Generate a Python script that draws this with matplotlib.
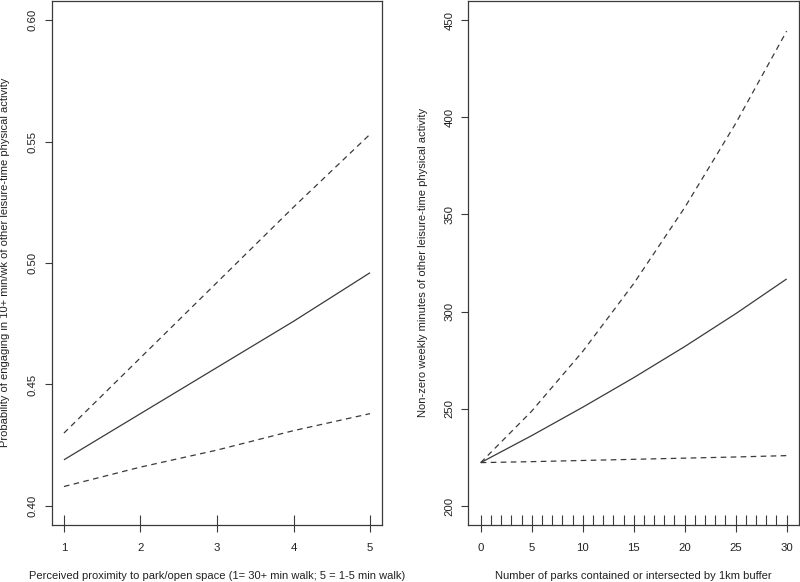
import matplotlib
matplotlib.use("Agg")
import matplotlib.pyplot as plt

plt.rcParams['font.family'] = ['Liberation Sans', 'DejaVu Sans']

# ---- Data: left panel (perceived proximity) ----
prox_x = [1, 2, 3, 4, 5]
prox_fit = [0.419, 0.438, 0.457, 0.476, 0.496]
prox_upper = [0.430, 0.461, 0.492, 0.523, 0.553]
prox_lower = [0.408, 0.416, 0.423, 0.431, 0.438]
prox_rug = [1, 2, 3, 4, 5]
prox_yticks = [0.40, 0.45, 0.50, 0.55, 0.60]
prox_xticks = [1, 2, 3, 4, 5]

# ---- Data: right panel (number of parks) ----
parks_x = [0, 5, 10, 15, 20, 25, 30]
parks_fit = [222.3, 236.2, 250.8, 266.0, 282.0, 298.9, 316.8]
parks_upper = [222.3, 248.8, 279.5, 314.4, 353.5, 396.8, 444.3]
parks_lower = [222.3, 222.8, 223.4, 224.0, 224.6, 225.2, 225.9]
parks_rug = [0, 1, 2, 3, 4, 5, 6, 7, 8, 9, 10, 11, 12, 13, 14, 15,
             16, 17, 18, 19, 20, 21, 22, 23, 24, 25, 26, 27, 28, 29, 30]
parks_yticks = [200, 250, 300, 350, 400, 450]
parks_xticks = [0, 5, 10, 15, 20, 25, 30]

xlabel_left = "Perceived proximity to park/open space (1= 30+ min walk; 5 = 1-5 min walk)"
ylabel_left = "Probability of engaging in 10+ min/wk of other leisure-time physical activity"
xlabel_right = "Number of parks contained or intersected by 1km buffer"
ylabel_right = "Non-zero weekly minutes of other leisure-time physical activity"

W, H = 800, 582
fig = plt.figure(figsize=(W / 100, H / 100), dpi=100)
fig.patch.set_facecolor('white')

def axpos(l, r, b, t):
    return [l / W, 1 - b / H, (r - l) / W, (b - t) / H]

LINE = '#3a3a3a'
TEXT = '#222222'
FS_TICK = 8.2
FS_LAB = 8.0
DASH = (0, (4.5, 3.5))

def style(ax, xlim, ylim, xticks, yticks, yfmt):
    ax.set_xlim(*xlim)
    ax.set_ylim(*ylim)
    for s in ax.spines.values():
        s.set_color(LINE)
        s.set_linewidth(0.9)
    ax.set_xticks(xticks)
    ax.set_yticks(yticks)
    ax.set_xticklabels([str(v) for v in xticks])
    ax.set_yticklabels([yfmt(v) for v in yticks])
    ax.tick_params(direction='out', length=5, width=0.8, color=LINE,
                   labelsize=FS_TICK, labelcolor=TEXT)
    ax.tick_params(axis='x', pad=7.5)
    ax.tick_params(axis='y', pad=5)
    plt.setp(ax.get_yticklabels(), rotation=90, va='center', ha='right')

def draw(ax, x, fit, up, lo, rug):
    ax.plot(x, fit, color=LINE, lw=0.9, solid_capstyle='butt')
    ax.plot(x, up, color=LINE, lw=0.9, linestyle=DASH)
    ax.plot(x, lo, color=LINE, lw=0.9, linestyle=DASH)
    ax.vlines(rug, 0, 10 / 524.8, transform=ax.get_xaxis_transform(),
              color=LINE, lw=0.8, clip_on=False)

# Left panel
ax1 = fig.add_axes(axpos(51.7, 382.3, 525.4, 0.6))
draw(ax1, prox_x, prox_fit, prox_upper, prox_lower, prox_rug)
style(ax1, (0.84, 5.16), (0.392, 0.608), prox_xticks, prox_yticks,
      lambda v: f"{v:.2f}")

# Right panel
ax2 = fig.add_axes(axpos(468.5, 798.9, 525.4, 0.6))
draw(ax2, parks_x, parks_fit, parks_upper, parks_lower, parks_rug)
style(ax2, (-1.2, 31.2), (190, 460), parks_xticks, parks_yticks,
      lambda v: f"{v:d}")

# Axis titles
fig.text(217.5 / W, 1 - 576 / H, xlabel_left, ha='center', va='center',
         fontsize=FS_LAB, color=TEXT)
fig.text(633.7 / W, 1 - 576 / H, xlabel_right, ha='center', va='center',
         fontsize=FS_LAB, color=TEXT)
fig.text(5.5 / W, 1 - 262.5 / H, ylabel_left, ha='center', va='center',
         rotation=90, fontsize=FS_LAB, color=TEXT)
fig.text(423 / W, 1 - 262.5 / H, ylabel_right, ha='center', va='center',
         rotation=90, fontsize=FS_LAB, color=TEXT)

fig.savefig('out.png', dpi=100, facecolor='white')
